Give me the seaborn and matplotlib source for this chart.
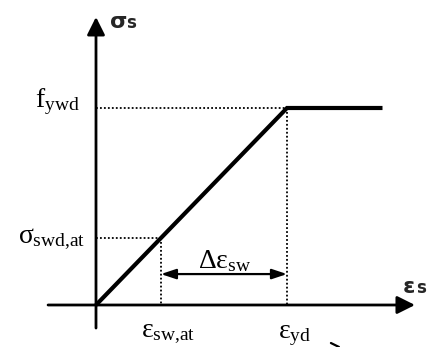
import matplotlib
matplotlib.use("Agg")
import matplotlib.pyplot as plt
import seaborn as sns
import pandas as pd

sns.set_theme(style="white")
plt.rcParams["font.family"] = ["DejaVu Sans"]
# upright Times-like symbols for the annotations
plt.rcParams["mathtext.fontset"] = "custom"
plt.rcParams["mathtext.rm"] = "Liberation Serif"
plt.rcParams["mathtext.it"] = "Liberation Serif"
plt.rcParams["mathtext.bf"] = "Liberation Serif:bold"

# Idealised bilinear stress-strain law of the stirrup steel (normalised units)
strain = [0.0, 1.0, 1.5]          # 0, eps_yd, end of plateau
stress = [0.0, 1.0, 1.0]          # 0, f_ywd, f_ywd
eps_yd = 1.0
f_ywd = 1.0
eps_sw_at = 0.34
sigma_swd_at = 0.34

df = pd.DataFrame({"strain": strain, "stress": stress})

fig = plt.figure(figsize=(4.30, 3.47), dpi=100)
ax = fig.add_axes([0, 0, 1, 1])
ax.set_xlim(-0.5026, 1.7487)
ax.set_ylim(-0.2132, 1.5482)
ax.axis("off")

# coordinate axes with arrowheads
axis_kw = dict(arrowstyle="-|>,head_length=0.9,head_width=0.45",
               lw=2.0, color="black", mutation_scale=12,
               shrinkA=0, shrinkB=0)
ax.annotate("", xy=(1.670, 0), xytext=(-0.251, 0), arrowprops=axis_kw)
ax.annotate("", xy=(0, 1.462), xytext=(0, -0.117), arrowprops=axis_kw)

# material law
sns.lineplot(data=df, x="strain", y="stress", ax=ax, color="black",
             lw=3.0, solid_capstyle="butt", solid_joinstyle="miter",
             sort=False, estimator=None)

# dotted guide lines
dot = dict(color="black", lw=1.3, linestyle=(0, (1, 1.2)))
ax.plot([0, eps_yd], [f_ywd, f_ywd], **dot)
ax.plot([eps_yd, eps_yd], [f_ywd, 0], **dot)
ax.plot([0, eps_sw_at], [sigma_swd_at, sigma_swd_at], **dot)
ax.plot([eps_sw_at, eps_sw_at], [sigma_swd_at, 0], **dot)

# strain range between the two points
ax.annotate("", xy=(eps_yd, 0.157), xytext=(eps_sw_at, 0.157),
            arrowprops=dict(arrowstyle="<|-|>,head_length=0.9,head_width=0.3",
                            lw=1.6, color="black", mutation_scale=10,
                            shrinkA=0, shrinkB=0))

serif = dict(color="black", fontsize=20)
ax.text(-0.084, 1.005, r"$\mathrm{f}_{\mathrm{ywd}}$", ha="right", va="baseline", **serif)
ax.text(-0.058, 0.315, r"$\sigma_{\mathrm{swd{,}at}}$", ha="right", va="baseline", **serif)
ax.text(0.675, 0.188, r"$\Delta\varepsilon_{\mathrm{sw}}$", ha="center", va="baseline", **serif)
ax.text(0.377, -0.162, r"$\varepsilon_{\mathrm{sw{,}at}}$", ha="center", va="baseline", **serif)
ax.text(0.953, -0.1675, r"$\varepsilon_{\mathrm{yd}}$", ha="left", va="baseline", **serif)

# axis titles
ax.text(0.073, 1.406, "σ", fontsize=16, fontweight="bold", ha="left", va="baseline")
ax.text(0.160, 1.406, "s", fontsize=12, fontweight="bold", ha="left", va="baseline")
ax.text(1.607, 0.061, "ε", fontsize=16, fontweight="bold", ha="left", va="baseline")
ax.text(1.675, 0.061, "s", fontsize=12, fontweight="bold", ha="left", va="baseline")

# small stroke below the strain axis
ax.plot([1.230, 1.272], [-0.193, -0.213], color="black", lw=1.6)

fig.savefig("out.png", dpi=100)
